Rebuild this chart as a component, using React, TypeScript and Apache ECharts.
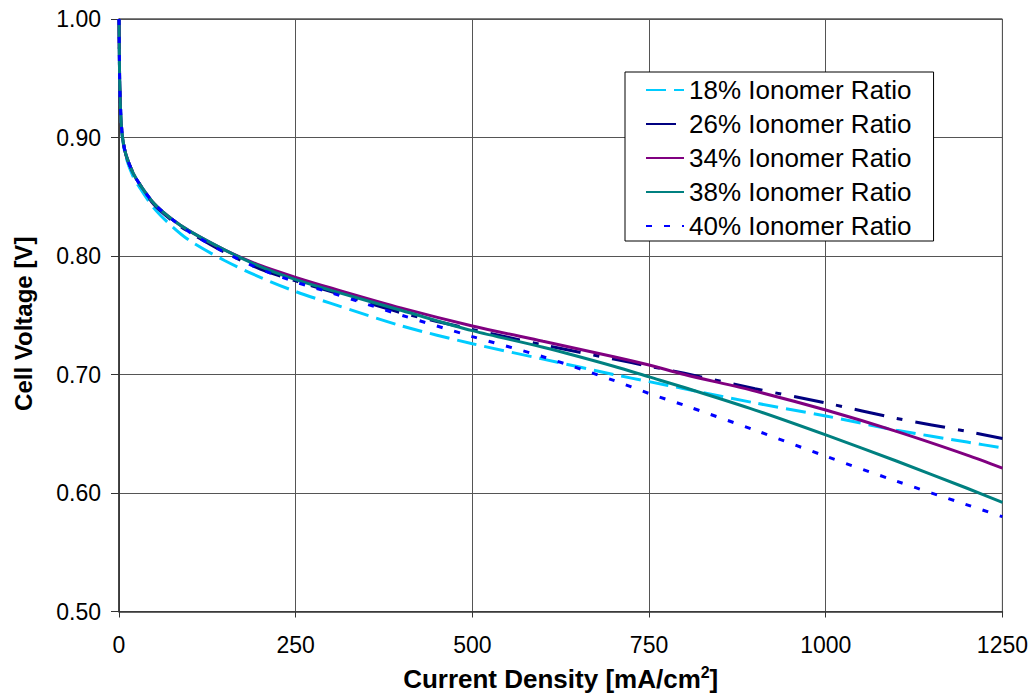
import React, { useEffect, useRef } from "react";
import * as echarts from "echarts";

const currentDensity = [0, 1, 2, 3, 5, 10, 20, 30, 50, 75, 100, 150, 200, 250, 300, 400, 500, 600, 700, 750, 800, 900, 1000, 1100, 1200, 1250];

const ratio18 = [1.0, 0.945, 0.927, 0.913, 0.899, 0.883, 0.867, 0.857, 0.840, 0.825, 0.813, 0.796, 0.782, 0.770, 0.760, 0.741, 0.726, 0.713, 0.700, 0.694, 0.688, 0.676, 0.665, 0.653, 0.643, 0.638];
const ratio26 = [1.0, 0.945, 0.927, 0.914, 0.900, 0.885, 0.870, 0.860, 0.843, 0.830, 0.820, 0.803, 0.789, 0.779, 0.770, 0.752, 0.738, 0.725, 0.713, 0.707, 0.701, 0.688, 0.676, 0.663, 0.652, 0.646];
const ratio34 = [1.0, 0.945, 0.927, 0.914, 0.900, 0.885, 0.870, 0.860, 0.844, 0.831, 0.821, 0.805, 0.792, 0.782, 0.773, 0.756, 0.741, 0.728, 0.715, 0.708, 0.700, 0.686, 0.670, 0.652, 0.632, 0.621];
const ratio38 = [1.0, 0.945, 0.927, 0.914, 0.900, 0.885, 0.870, 0.860, 0.844, 0.831, 0.821, 0.805, 0.791, 0.780, 0.771, 0.754, 0.737, 0.723, 0.707, 0.698, 0.689, 0.670, 0.649, 0.627, 0.604, 0.592];
const ratio40 = [1.0, 0.945, 0.927, 0.914, 0.900, 0.885, 0.870, 0.860, 0.844, 0.831, 0.820, 0.803, 0.789, 0.778, 0.769, 0.750, 0.732, 0.715, 0.695, 0.684, 0.674, 0.653, 0.631, 0.610, 0.590, 0.580];

const seriesNames = ["18% Ionomer Ratio", "26% Ionomer Ratio", "34% Ionomer Ratio", "38% Ionomer Ratio", "40% Ionomer Ratio"];
const seriesValues = [ratio18, ratio26, ratio34, ratio38, ratio40];
const seriesColors = ["#00CCFF", "#000080", "#800080", "#008080", "#0000FF"];
const seriesDashes: any[] = [[20, 8], [30, 13, 6, 13], "solid", "solid", [6, 12]];

const xTicks = { min: 0, max: 1250, interval: 250 };
const yTicks = { min: 0.5, max: 1.0, interval: 0.1 };

const FONT = "Liberation Sans, Arial, sans-serif";

export default function App() {
  const ref = useRef<HTMLDivElement>(null);
  useEffect(() => {
    if (!ref.current) return;
    const chart = echarts.init(ref.current, undefined, { renderer: "svg" });
    const series = seriesNames.map((name, i) => ({
      name,
      type: "line",
      data: currentDensity.map((x, j) => [x, seriesValues[i][j]]),
      smooth: 0.3,
      showSymbol: false,
      symbol: "none",
      lineStyle: { color: seriesColors[i], width: 3, type: seriesDashes[i], cap: "butt" },
      itemStyle: { color: seriesColors[i] },
      z: 3 + i,
    }));
    chart.setOption({
      animation: false,
      backgroundColor: "#fff",
      textStyle: { fontFamily: FONT },
      grid: {
        left: 119, top: 19, width: 885, height: 595,
        show: true, borderColor: "#000", borderWidth: 1, backgroundColor: "transparent",
      },
      legend: {
        orient: "vertical",
        left: 625, top: 72,
        backgroundColor: "#fff",
        borderColor: "#000",
        borderWidth: 1,
        padding: [5, 22, 2, 20],
        itemWidth: 38,
        itemHeight: 14,
        itemGap: 8,
        itemStyle: { opacity: 0, borderWidth: 0 },
        textStyle: { fontSize: 26, color: "#000", fontFamily: FONT, lineHeight: 24 },
        data: seriesNames,
      },
      xAxis: {
        type: "value",
        min: xTicks.min, max: xTicks.max, interval: xTicks.interval,
        name: "Current Density [mA/cm{sup|2}]",
        nameLocation: "middle",
        nameGap: 53,
        nameTextStyle: {
          fontSize: 26, fontWeight: "bold", color: "#000", fontFamily: FONT,
          rich: { sup: { fontSize: 16, fontWeight: "bold", verticalAlign: "top", padding: [0, 0, 13, 0], fontFamily: FONT } },
        },
        axisLine: { show: true, lineStyle: { color: "#333", width: 1.5 } },
        axisTick: { show: true, inside: false, length: 6, lineStyle: { color: "#333" } },
        axisLabel: { fontSize: 23, color: "#000", margin: 22, fontFamily: FONT, formatter: (v: number) => String(v) },
        splitLine: { show: true, lineStyle: { color: "#555", width: 1 } },
      },
      yAxis: {
        type: "value",
        min: yTicks.min, max: yTicks.max, interval: yTicks.interval,
        name: "Cell Voltage [V]",
        nameLocation: "middle",
        nameGap: 84,
        nameTextStyle: { fontSize: 24, fontWeight: "bold", color: "#000", fontFamily: FONT, padding: [0, 17, 0, 0] },
        axisLine: { show: true, lineStyle: { color: "#333", width: 1.5 } },
        axisTick: { show: true, inside: false, length: 8, lineStyle: { color: "#333" } },
        axisLabel: { fontSize: 23, color: "#000", margin: 18, fontFamily: FONT, formatter: (v: number) => v.toFixed(2) },
        splitLine: { show: true, lineStyle: { color: "#555", width: 1 } },
      },
      series,
    });
    return () => chart.dispose();
  }, []);
  return <div ref={ref} style={{ position: "fixed", left: 0, top: 0, width: 1031, height: 697 }} />;
}
